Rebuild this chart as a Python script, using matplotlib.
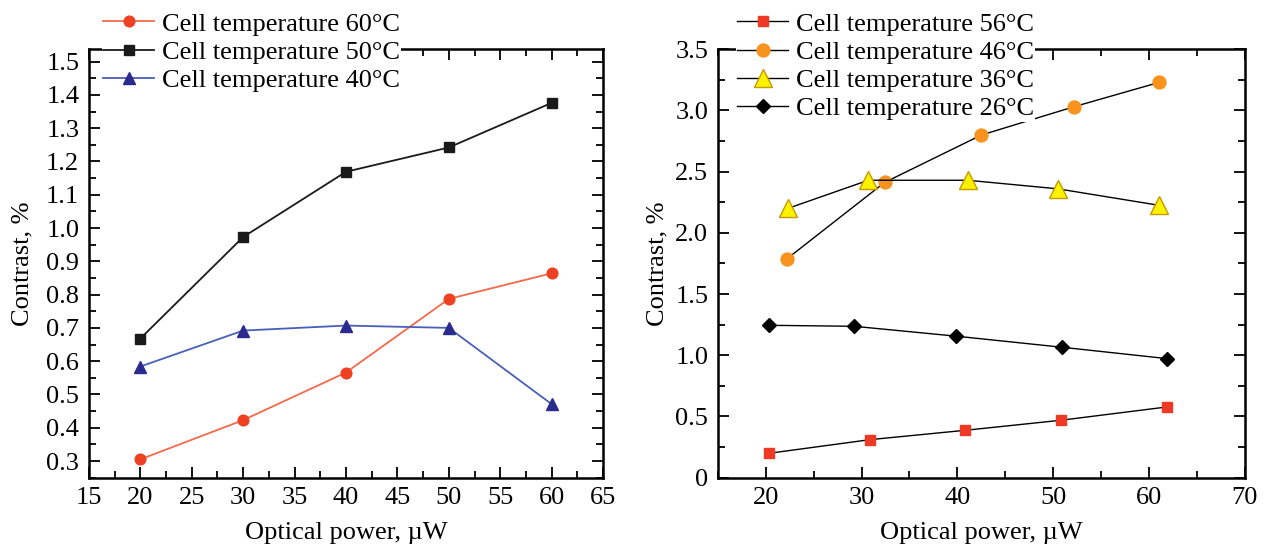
import numpy as np
import matplotlib
matplotlib.use("Agg")
import matplotlib.pyplot as plt
from matplotlib.ticker import MultipleLocator, FuncFormatter

plt.rcParams['font.family'] = ['Liberation Serif', 'DejaVu Serif']

# left panel data
power_l = [20, 30, 40, 50, 60]
c60 = [0.305, 0.423, 0.566, 0.787, 0.864]
c50 = [0.668, 0.973, 1.169, 1.242, 1.376]
c40 = [0.584, 0.692, 0.707, 0.700, 0.471]

# right panel data
p56 = [20.3, 30.9, 40.8, 50.8, 61.9]
c56 = [0.199, 0.311, 0.387, 0.469, 0.578]
p46 = [22.2, 32.4, 42.5, 52.2, 61.1]
c46 = [1.788, 2.412, 2.799, 3.031, 3.230]
p36 = [22.3, 30.7, 41.1, 50.5, 61.1]
c36 = [2.200, 2.430, 2.430, 2.360, 2.225]
p26 = [20.3, 29.2, 39.9, 50.9, 61.9]
c26 = [1.245, 1.237, 1.156, 1.066, 0.973]

FS = 19

fig = plt.figure(figsize=(12.69, 5.47), dpi=100)
ax1 = fig.add_axes([0.0701, 0.1267, 0.4051, 0.7832])
ax2 = fig.add_axes([0.5658, 0.1267, 0.4149, 0.7832])

ax1.plot(power_l, c60, '-o', color='#f26a4b', mfc='#ee4022', mec='#ee4022', ms=7.7, lw=1.3,
         label='Cell temperature 60°C')
ax1.plot(power_l, c50, '-s', color='#1a1a1a', ms=6.7, lw=1.3, label='Cell temperature 50°C')
ax1.plot(power_l, c40, '-^', color='#4a5fb8', mfc='#2b2a8e', mec='#2b2a8e', ms=9, lw=1.3,
         label='Cell temperature 40°C')

ax1.set_xlim(15, 65)
ax1.set_ylim(0.25, 1.537)
ax1.xaxis.set_major_locator(MultipleLocator(5))
ax1.xaxis.set_minor_locator(MultipleLocator(2.5))
ax1.yaxis.set_major_locator(MultipleLocator(0.1))
ax1.yaxis.set_minor_locator(MultipleLocator(0.05))
ax1.yaxis.set_major_formatter(FuncFormatter(lambda v, p: '%.1f' % v))

ax2.plot(p56, c56, '-s', color='black', mfc='#ee3a24', mec='#ee3a24', ms=7.2, lw=1.0,
         label='Cell temperature 56°C')
ax2.plot(p46, c46, '-o', color='black', mfc='#f7931e', mec='#f7931e', ms=9.3, lw=1.0,
         label='Cell temperature 46°C')
ax2.plot(p36, c36, '-^', color='black', mfc='#fff200', mec='#c49a00', ms=13, lw=1.0,
         label='Cell temperature 36°C')
ax2.plot(p26, c26, '-D', color='black', mfc='black', mec='black', ms=7, lw=1.0,
         label='Cell temperature 26°C')

ax2.set_xlim(15, 70)
ax2.set_ylim(0, 3.5)
ax2.xaxis.set_major_locator(MultipleLocator(10))
ax2.xaxis.set_minor_locator(MultipleLocator(5))
ax2.yaxis.set_major_locator(MultipleLocator(0.5))
ax2.yaxis.set_minor_locator(MultipleLocator(0.25))
ax2.yaxis.set_major_formatter(FuncFormatter(lambda v, p: '0' if abs(v) < 1e-9 else '%.1f' % v))

for ax in (ax1, ax2):
    ax.tick_params(which='both', direction='in', top=True, right=True, labelsize=FS)
    ax.tick_params(axis='x', pad=7)
    ax.tick_params(axis='y', pad=7)
    ax.tick_params(which='major', length=8, width=1.3)
    ax.tick_params(which='minor', length=5, width=1.3)
    for s in ax.spines.values():
        s.set_linewidth(1.8)
    ax.set_xlabel('Optical power, µW', fontsize=FS, labelpad=9)

ax1.set_ylabel('Contrast, %', fontsize=FS, labelpad=9)
ax2.set_ylabel('Contrast, %', fontsize=FS, labelpad=5)

leg_kw = dict(loc='upper left', fontsize=FS, frameon=True, facecolor='white', edgecolor='none',
              framealpha=1, borderpad=0.05, handlelength=1.9, handletextpad=0.3,
              labelspacing=0.18, borderaxespad=0, bbox_transform=fig.transFigure)
leg1 = ax1.legend(bbox_to_anchor=(0.0835 - 0.003, 0.98), **leg_kw)
leg2 = ax2.legend(bbox_to_anchor=(0.5831 - 0.003, 0.98), **leg_kw)
for leg in (leg1, leg2):
    leg.get_frame().set_boxstyle('square', pad=0)

fig.savefig('out.png', dpi=100)
